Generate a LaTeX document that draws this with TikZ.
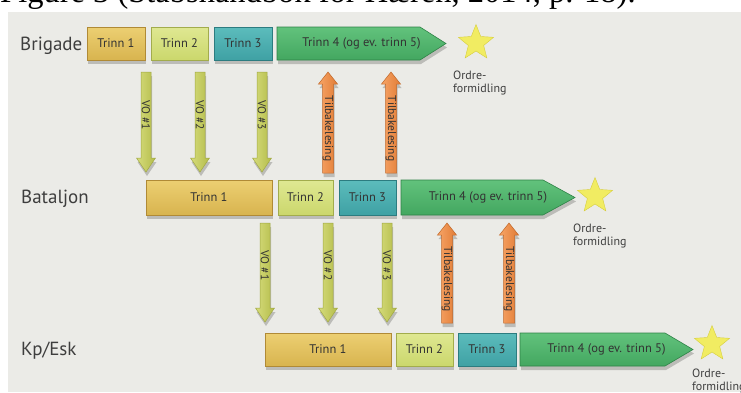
\documentclass[tikz,border=0pt]{standalone}
\usepackage{fontspec}
\setmainfont{PT Sans}
\newfontfamily\capfont{Liberation Serif}
\usetikzlibrary{shapes.geometric,shadows,calc}
\definecolor{bgcol}{HTML}{EBEBE7}
\definecolor{txt}{HTML}{333333}
\definecolor{labtxt}{HTML}{3E3E3E}
\definecolor{cA}{HTML}{D8B44F}\definecolor{cAtop}{HTML}{ECCF72}\definecolor{cAdk}{HTML}{B08A36}
\definecolor{cB}{HTML}{CBD76C}\definecolor{cBtop}{HTML}{DFE892}\definecolor{cBdk}{HTML}{A2AC4C}
\definecolor{cC}{HTML}{3FA1A4}\definecolor{cCtop}{HTML}{5CBCBC}\definecolor{cCdk}{HTML}{2C7C80}
\definecolor{cD}{HTML}{43A760}\definecolor{cDtop}{HTML}{62C27C}\definecolor{cDdk}{HTML}{2E8246}
\definecolor{voL}{HTML}{D6DC7C}\definecolor{voR}{HTML}{B4BC4A}\definecolor{vodk}{HTML}{A0A844}
\definecolor{tbL}{HTML}{F7A466}\definecolor{tbR}{HTML}{E17C36}\definecolor{tbdk}{HTML}{C0682A}
\definecolor{starc}{HTML}{F1EC62}\definecolor{stardk}{HTML}{D6CE3E}
\tikzset{
  shadowsty/.style={drop shadow={shadow xshift=1pt, shadow yshift=-4pt, opacity=0.2, fill=black}},
  trinn/.style={line width=0.6pt, inner sep=0pt, font=\fontsize{12.5}{14}\selectfont, text=txt, shadowsty},
  trinntext/.style={inner sep=0pt, font=\fontsize{12.5}{14}\selectfont, text=txt},
  voarrow/.style={draw=vodk, line width=0.5pt, left color=voL, right color=voR, shadowsty},
  tbarrow/.style={draw=tbdk, line width=0.5pt, left color=tbL, right color=tbR, shadowsty},
  arrtext/.style={inner sep=0pt, font=\fontsize{11.5}{13}\selectfont, text=txt},
  starsty/.style={star, star points=5, star point ratio=2.3, minimum size=37pt, inner sep=0pt, fill=starc, draw=stardk, line width=0.4pt},
  ordre/.style={inner sep=0pt, anchor=north west, align=left, font=\fontsize{12}{13}\selectfont, text=labtxt},
  rowlab/.style={inner sep=0pt, anchor=base west, font=\fontsize{19}{21}\selectfont, text=labtxt},
}
% name, x1, x2, y1, y2, colour, text
\newcommand\tbox[7]{\node[trinn, top color=#6top, bottom color=#6, draw=#6dk,
  minimum width={#3-#2}, minimum height={#5-#4}] (#1) at ({(#2+#3)/2},{(#4+#5)/2}) {#7};}
% name, x1, xbody, xtip, y1, y2
\newcommand\tfour[6]{\path[draw=cDdk, line width=0.6pt, top color=cDtop, bottom color=cD, shadowsty]
  (#2,#5) -- (#3,#5) -- (#4,{(#5+#6)/2}) -- (#3,#6) -- (#2,#6) -- cycle;
  \node[trinntext] (#1) at ({(#2+#4)/2},{(#5+#6)/2}) {Trinn 4 (og ev. trinn 5)};}
% name, x, ytop, ytip, text
\newcommand\voarr[5]{\path[voarrow] (#2-5,#3) -- (#2+5,#3) -- (#2+5,#4-14) -- (#2+9.5,#4-14) -- (#2,#4)
  -- (#2-9.5,#4-14) -- (#2-5,#4-14) -- cycle;
  \node[arrtext, rotate=-90] (#1) at (#2,{(#3+#4-14)/2}) {#5};}
% name, x, ytip, ybot, text
\newcommand\tbarr[5]{\path[tbarrow] (#2,#3) -- (#2+9.5,#3+12) -- (#2+5.5,#3+12) -- (#2+5.5,#4)
  -- (#2-5.5,#4) -- (#2-5.5,#3+12) -- (#2-9.5,#3+12) -- cycle;
  \node[arrtext, rotate=-90] (#1) at (#2,{(#3+12+#4)/2}) {#5};}
\begin{document}
\begin{tikzpicture}[x=1pt,y=-1pt]
\useasboundingbox (0,0) rectangle (741,392);
\clip (0,0) rectangle (741,392);
\fill[white] (0,0) rectangle (741,392);
\fill[bgcol] (8,12) rectangle (741,392);
\node[inner sep=0pt, anchor=base west, font=\capfont\fontsize{32.5}{36}\selectfont] (cap) at (0,2)
  {Figure 3 (Stabshåndbok for Hæren, 2014, p. 18).};

% row labels
\node[rowlab] (brig) at (20,50) {Brigade};
\node[rowlab] (batl) at (21,203) {Bataljon};
\node[rowlab] (kpesk) at (21,355) {Kp/Esk};

% arrows between Brigade and Bataljon
\voarr{vo11}{146}{72}{172}{VO \#1}
\voarr{vo12}{200}{72}{172}{VO \#2}
\voarr{vo13}{262}{72}{172}{VO \#3}
\tbarr{tb11}{328}{72}{173}{Tilbakelesing}
\tbarr{tb12}{391}{72}{173}{Tilbakelesing}

% arrows between Bataljon and Kp/Esk
\voarr{vo21}{265}{223}{322}{VO \#1}
\voarr{vo22}{328}{223}{322}{VO \#2}
\voarr{vo23}{387}{223}{322}{VO \#3}
\tbarr{tb21}{447}{223}{323}{Tilbakelesing}
\tbarr{tb22}{509}{223}{323}{Tilbakelesing}

% Brigade row
\tbox{b1}{87}{145}{27}{60}{cA}{Trinn 1}
\tbox{b2}{151}{208}{27}{60}{cB}{Trinn 2}
\tbox{b3}{214}{272}{27}{60}{cC}{Trinn 3}
\tfour{b4}{277}{420}{446}{27}{60}
\node[starsty] (s1) at (476,43) {};
\node[ordre] (o1) at (453,71) {Ordre-\\formidling};

% Bataljon row
\tbox{c1}{146}{272}{180}{215}{cA}{Trinn 1}
\tbox{c2}{278}{333}{180}{215}{cB}{Trinn 2}
\tbox{c3}{339}{396}{180}{215}{cC}{Trinn 3}
\tfour{c4}{401}{543}{575}{180}{215}
\node[starsty] (s2) at (595,196) {};
\node[ordre] (o2) at (573,224) {Ordre-\\formidling};

% Kp/Esk row
\tbox{d1}{265}{391}{333}{366}{cA}{Trinn 1}
\tbox{d2}{396}{453}{333}{366}{cB}{Trinn 2}
\tbox{d3}{458}{516}{333}{366}{cC}{Trinn 3}
\tfour{d4}{520}{665}{693}{333}{366}
\node[starsty] (s3) at (712,344) {};
\node[ordre] (o3) at (692,369) {Ordre-\\formidling};
\end{tikzpicture}
\end{document}
